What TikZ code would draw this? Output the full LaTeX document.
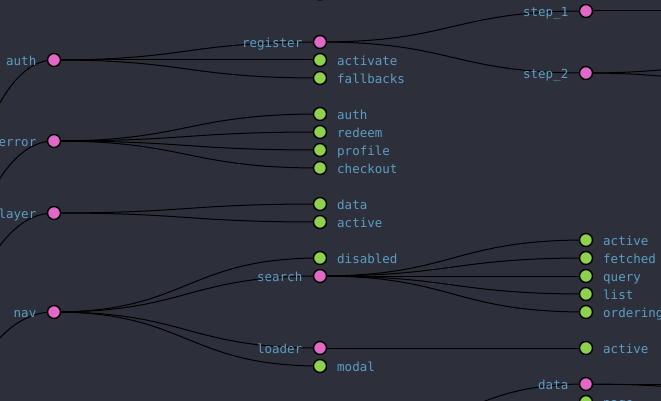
\documentclass[tikz,border=0pt]{standalone}
\usepackage{fontspec}
\newfontfamily\dvmono{DejaVu Sans Mono}
\usetikzlibrary{calc}
\definecolor{bgc}{RGB}{45,47,59}
\definecolor{pinkc}{RGB}{226,104,200}
\definecolor{greenc}{RGB}{143,209,79}
\definecolor{textc}{RGB}{92,158,196}
\pgfdeclarelayer{bglayer}
\pgfdeclarelayer{linklayer}
\pgfsetlayers{bglayer,linklayer,main}
\tikzset{
  dot/.style={circle, draw=black, line width=1.4pt, minimum size=13pt, inner sep=0pt, outer sep=0pt},
  pdot/.style={dot, fill=pinkc},
  gdot/.style={dot, fill=greenc},
  lbl/.style={text=textc, inner sep=0pt, font=\dvmono\fontsize{12.5}{14}\selectfont},
  link/.style={draw=black, line width=1pt,
    to path={let \p1=(\tikztostart), \p2=(\tikztotarget) in
      .. controls ({0.5*\x1+0.5*\x2},\y1) and ({0.5*\x1+0.5*\x2},\y2) .. (\tikztotarget)}},
}
\newcommand\pinkL[4]{\node[pdot] (#1) at (#2,#3) {};
  \node[lbl, anchor=base east] (#1-t) at ({#2-17.5},{#3+5.5}) {#4};}
\newcommand\greenR[4]{\node[gdot] (#1) at (#2,#3) {};
  \node[lbl, anchor=base west] (#1-t) at ({#2+17},{#3+5.5}) {#4};}
\begin{document}
\begin{tikzpicture}[x=1pt, y=-1pt]
\useasboundingbox (0,0) rectangle (661,401);
\begin{pgfonlayer}{bglayer}
  \fill[bgc] (0,0) rectangle (661,401);
\end{pgfonlayer}
\clip (0,0) rectangle (661,401);
% off-picture ends
\coordinate (root) at (-212,700);
\coordinate (s1c) at (852,11);
\coordinate (s2a) at (852,50);
\coordinate (s2b) at (852,96);
\coordinate (dc1) at (852,384);
\coordinate (dc2) at (852,400);
\coordinate (dpar) at (320,446);
% depth 1
\pinkL{auth}{54}{60}{auth}
\pinkL{error}{54}{141}{error}
\pinkL{layer}{54}{213}{layer}
\pinkL{nav}{54}{312}{nav}
% depth 2
\node[gdot] (top) at (320,-6.5) {};
\pinkL{register}{320}{42}{register}
\greenR{activate}{320}{60}{activate}
\greenR{fallbacks}{320}{78}{fallbacks}
\greenR{eauth}{320}{114}{auth}
\greenR{redeem}{320}{132}{redeem}
\greenR{profile}{320}{150}{profile}
\greenR{checkout}{320}{168}{checkout}
\greenR{ldata}{320}{204}{data}
\greenR{lactive}{320}{222}{active}
\greenR{disabled}{320}{258}{disabled}
\pinkL{search}{320}{276}{search}
\pinkL{loader}{320}{348}{loader}
\greenR{modal}{320}{366}{modal}
% depth 3
\pinkL{step1}{586}{11}{step\_1}
\pinkL{step2}{586}{73}{step\_2}
\greenR{sactive}{586}{240}{active}
\greenR{fetched}{586}{258}{fetched}
\greenR{query}{586}{276}{query}
\greenR{list}{586}{294}{list}
\greenR{ordering}{586}{312}{ordering}
\greenR{ldactive}{586}{348}{active}
\pinkL{data}{586}{384}{data}
\greenR{page}{586}{402}{page}
\begin{pgfonlayer}{linklayer}
  \clip (0,0) rectangle (661,401);
  \foreach \a/\b in {root/auth, root/error, root/layer, root/nav,
      auth/register, auth/activate, auth/fallbacks,
      error/eauth, error/redeem, error/profile, error/checkout,
      layer/ldata, layer/lactive,
      nav/disabled, nav/search, nav/loader, nav/modal,
      register/step1, register/step2,
      search/sactive, search/fetched, search/query, search/list, search/ordering,
      loader/ldactive,
      step1/s1c, step2/s2a, step2/s2b,
      dpar/data, dpar/page, data/dc1, data/dc2}
    \draw[link] (\a.center) to (\b.center);
\end{pgfonlayer}
\end{tikzpicture}
\end{document}
